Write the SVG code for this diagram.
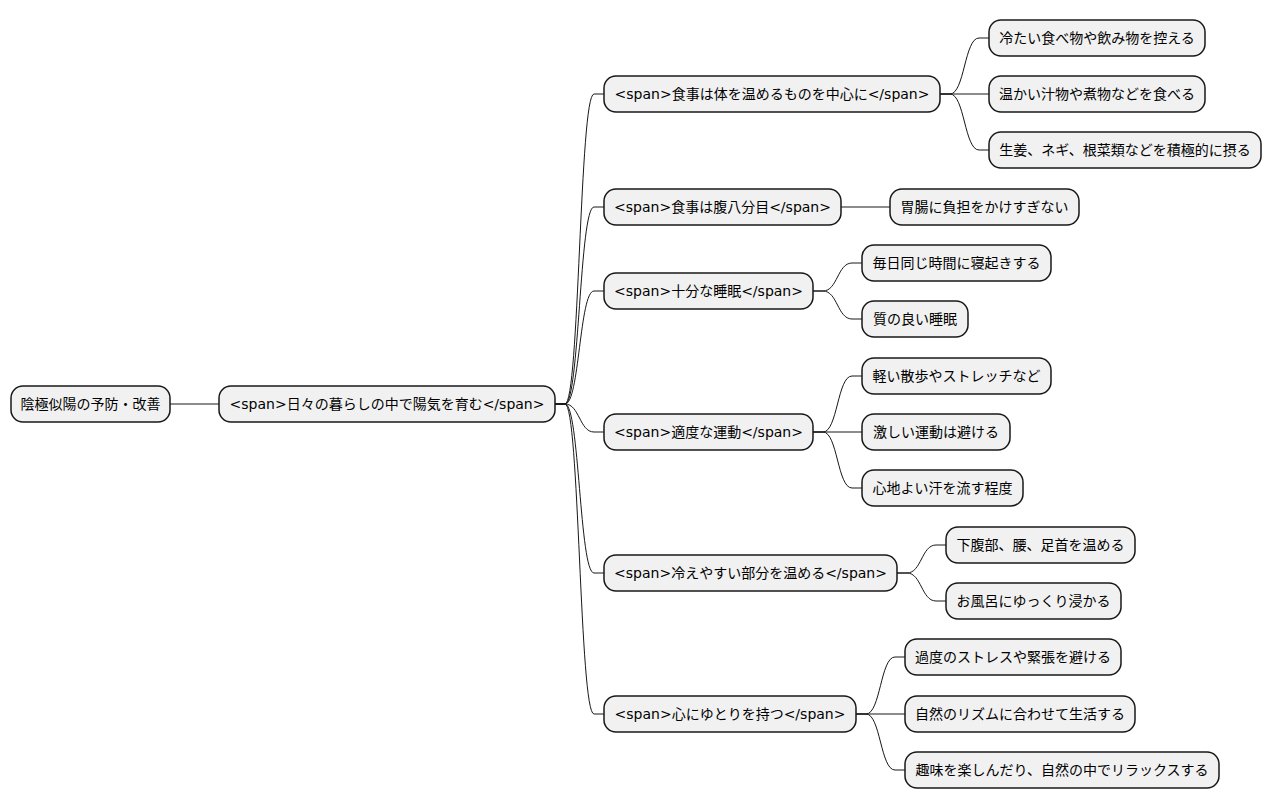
<svg xmlns="http://www.w3.org/2000/svg" width="1272" height="809" viewBox="0 0 1272 809">
<style>
.n rect{fill:#F1F1F1;stroke:#181818;stroke-width:1.5}
.n text{font-family:"DejaVu Sans","Noto Sans CJK JP",sans-serif;font-size:14px;fill:#000;text-anchor:middle}
#edges path{fill:none;stroke:#181818;stroke-width:1}
</style>
<rect width="1272" height="809" fill="#FFFFFF"/>
<g id="edges">
<path d="M170,404 L219,404"/>
<path d="M555,404 L565,404 C579.5,404 579.5,94 594,94 L604,94"/>
<path d="M555,404 L565,404 C579.5,404 579.5,207 594,207 L604,207"/>
<path d="M555,404 L565,404 C579.5,404 579.5,291 594,291 L604,291"/>
<path d="M555,404 L565,404 C579.5,404 579.5,432 594,432 L604,432"/>
<path d="M555,404 L565,404 C579.5,404 579.5,573 594,573 L604,573"/>
<path d="M555,404 L565,404 C579.5,404 579.5,714 594,714 L604,714"/>
<path d="M940,94 L950,94 C964.5,94 964.5,38 979,38 L989,38"/>
<path d="M940,94 L989,94"/>
<path d="M940,94 L950,94 C964.5,94 964.5,150 979,150 L989,150"/>
<path d="M841,207 L890,207"/>
<path d="M813,291 L823,291 C837.5,291 837.5,263 852,263 L862,263"/>
<path d="M813,291 L823,291 C837.5,291 837.5,319 852,319 L862,319"/>
<path d="M813,432 L823,432 C837.5,432 837.5,376 852,376 L862,376"/>
<path d="M813,432 L862,432"/>
<path d="M813,432 L823,432 C837.5,432 837.5,488 852,488 L862,488"/>
<path d="M897,573 L907,573 C921.5,573 921.5,545 936,545 L946,545"/>
<path d="M897,573 L907,573 C921.5,573 921.5,601 936,601 L946,601"/>
<path d="M856,714 L866,714 C880.5,714 880.5,657 895,657 L905,657"/>
<path d="M856,714 L905,714"/>
<path d="M856,714 L866,714 C880.5,714 880.5,770 895,770 L905,770"/>
</g>
<g id="root" class="n"><rect x="11" y="386" width="159" height="36" rx="12"/><text x="90.5" y="409">陰極似陽の予防・改善</text></g>
<g id="l1" class="n"><rect x="219" y="386" width="336" height="36" rx="12"/><text x="387" y="409">&lt;span&gt;日々の暮らしの中で陽気を育む&lt;/span&gt;</text></g>
<g id="a" class="n"><rect x="604" y="76" width="336" height="36" rx="12"/><text x="772" y="99">&lt;span&gt;食事は体を温めるものを中心に&lt;/span&gt;</text></g>
<g id="b" class="n"><rect x="604" y="189" width="237" height="36" rx="12"/><text x="722.5" y="212">&lt;span&gt;食事は腹八分目&lt;/span&gt;</text></g>
<g id="c" class="n"><rect x="604" y="273" width="209" height="36" rx="12"/><text x="708.5" y="296">&lt;span&gt;十分な睡眠&lt;/span&gt;</text></g>
<g id="d" class="n"><rect x="604" y="414" width="209" height="36" rx="12"/><text x="708.5" y="437">&lt;span&gt;適度な運動&lt;/span&gt;</text></g>
<g id="e" class="n"><rect x="604" y="555" width="293" height="36" rx="12"/><text x="750.5" y="578">&lt;span&gt;冷えやすい部分を温める&lt;/span&gt;</text></g>
<g id="f" class="n"><rect x="604" y="696" width="252" height="36" rx="12"/><text x="730" y="719">&lt;span&gt;心にゆとりを持つ&lt;/span&gt;</text></g>
<g id="a1" class="n"><rect x="989" y="20" width="216" height="36" rx="12"/><text x="1097" y="43">冷たい食べ物や飲み物を控える</text></g>
<g id="a2" class="n"><rect x="989" y="76" width="216" height="36" rx="12"/><text x="1097" y="99">温かい汁物や煮物などを食べる</text></g>
<g id="a3" class="n"><rect x="989" y="132" width="272" height="36" rx="12"/><text x="1125" y="155">生姜、ネギ、根菜類などを積極的に摂る</text></g>
<g id="b1" class="n"><rect x="890" y="189" width="189" height="36" rx="12"/><text x="984.5" y="212">胃腸に負担をかけすぎない</text></g>
<g id="c1" class="n"><rect x="862" y="245" width="189" height="36" rx="12"/><text x="956.5" y="268">毎日同じ時間に寝起きする</text></g>
<g id="c2" class="n"><rect x="862" y="301" width="106" height="36" rx="12"/><text x="915" y="324">質の良い睡眠</text></g>
<g id="d1" class="n"><rect x="862" y="358" width="189" height="36" rx="12"/><text x="956.5" y="381">軽い散歩やストレッチなど</text></g>
<g id="d2" class="n"><rect x="862" y="414" width="148" height="36" rx="12"/><text x="936" y="437">激しい運動は避ける</text></g>
<g id="d3" class="n"><rect x="862" y="470" width="161" height="36" rx="12"/><text x="942.5" y="493">心地よい汗を流す程度</text></g>
<g id="e1" class="n"><rect x="946" y="527" width="189" height="36" rx="12"/><text x="1040.5" y="550">下腹部、腰、足首を温める</text></g>
<g id="e2" class="n"><rect x="946" y="583" width="175" height="36" rx="12"/><text x="1033.5" y="606">お風呂にゆっくり浸かる</text></g>
<g id="f1" class="n"><rect x="905" y="639" width="216" height="36" rx="12"/><text x="1013" y="662">過度のストレスや緊張を避ける</text></g>
<g id="f2" class="n"><rect x="905" y="696" width="230" height="36" rx="12"/><text x="1020" y="719">自然のリズムに合わせて生活する</text></g>
<g id="f3" class="n"><rect x="905" y="752" width="314" height="36" rx="12"/><text x="1062" y="775">趣味を楽しんだり、自然の中でリラックスする</text></g>
</svg>
